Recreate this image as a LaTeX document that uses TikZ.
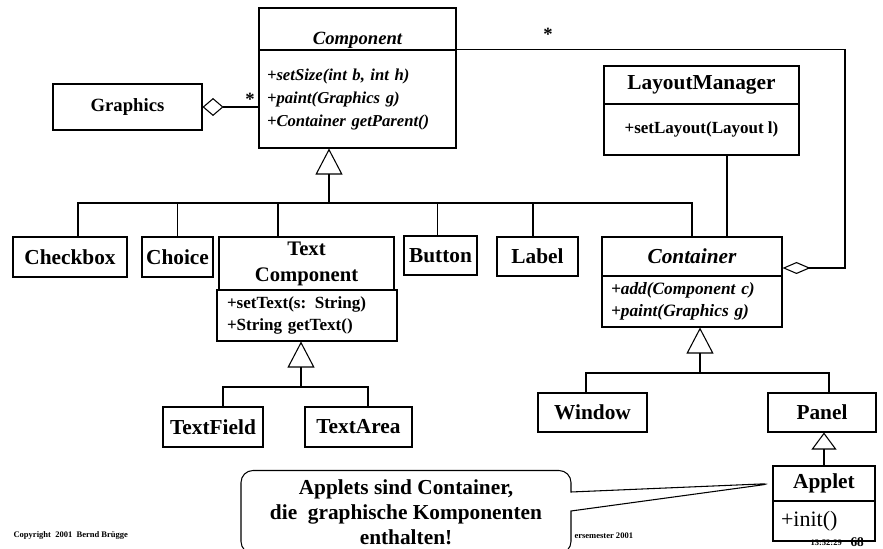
\documentclass[tikz,border=0pt]{standalone}
\usepackage{fontspec}
\setmainfont{Liberation Serif}
\usepackage{tikz}
\usetikzlibrary{arrows.meta, shapes.callouts}

\begin{document}
\begin{tikzpicture}[
        x = 0.75pt, y = -0.75pt, % pixel grid, y pointing down
        line width = 0.8pt, % line style
        gen/.style = {-{Triangle[open, length=19.5pt, width=20.25pt]}}, % generalization
        gensmall/.style = {-{Triangle[open, length=12.75pt, width=18.75pt]}}
    ]

    \tikzstyle{every node}=[inner sep = 0pt]
    \tikzstyle{cls}=[
        draw = black,
        fill = white,
        font = \fontsize{16}{19.5}\selectfont\bfseries
    ]
    \tikzstyle{ops}=[cls, align = left]
    \tikzstyle{mult}=[font = \fontsize{14}{16}\selectfont\bfseries]
    \tikzstyle{foot}=[anchor = base west, font = \fontsize{6.4}{7}\selectfont\bfseries]
    \tikzstyle{note}=[
        rectangle callout,
        draw = black,
        fill = white,
        rounded corners = 9pt,
        align = center,
        minimum width = 247.5pt,
        minimum height = 62.25pt,
        callout pointer width = 14.25pt,
        font = \fontsize{16}{18.75}\selectfont\bfseries
    ]

    \useasboundingbox (0,0) rectangle (883,549);

    % Component
    \node[cls, minimum width=147.75pt, minimum height=31.5pt, text height=27.75pt, text depth=3.75pt,
          font=\fontsize{14}{17}\selectfont\bfseries\itshape] (chead) at (357.5,29) {Component};
    \node[ops, minimum width=147.75pt, minimum height=73.5pt, text width=135.75pt,
          font=\fontsize{12.5}{17.25}\selectfont\bfseries\itshape] (cbody) at (357.5,99)
          {+setSize(int b, int h)\\+paint(Graphics g)\\+Container getParent()};
    \node[cls, minimum width=111.75pt, minimum height=34.5pt,
          font=\fontsize{14}{17}\selectfont\bfseries] (gfx) at (127.5,107) {Graphics};

    % LayoutManager
    \node[cls, minimum width=146.25pt, minimum height=28.5pt] (lhead) at (701.5,85) {LayoutManager};
    \node[cls, minimum width=146.25pt, minimum height=38.25pt,
          font=\fontsize{12.75}{15}\selectfont\bfseries] (lbody) at (701.5,129.5) {+setLayout(Layout l)};

    % subclasses of Component
    \node[cls, minimum width=85.5pt, minimum height=30pt] (chk) at (70,257) {Checkbox};
    \node[cls, minimum width=53.25pt, minimum height=30pt] (choice) at (177.5,257) {Choice};
    \node[cls, minimum width=131.25pt, minimum height=39.75pt, align=center,
          font=\fontsize{15.5}{19.5}\selectfont\bfseries] (tchead) at (306.5,263.5) {Text\\Component};
    \node[ops, minimum width=135pt, minimum height=38.25pt, text width=120pt,
          font=\fontsize{12.8}{16.5}\selectfont\bfseries] (tcbody) at (307,315.5)
          {+setText(s: String)\\+String getText()};
    \node[cls, minimum width=54.75pt, minimum height=29.25pt] (button) at (440.5,255.5) {Button};
    \node[cls, minimum width=60.75pt, minimum height=29.25pt] (label) at (537.5,256.5) {Label};
    \node[cls, minimum width=135pt, minimum height=29.25pt,
          font=\fontsize{16}{19.5}\selectfont\bfseries\itshape] (conthead) at (692,256.5) {Container};
    \node[ops, minimum width=135pt, minimum height=38.25pt, text width=121.5pt,
          font=\fontsize{13}{16.5}\selectfont\bfseries\itshape] (contbody) at (692,301.5)
          {+add(Component c)\\+paint(Graphics g)};

    % lower level
    \node[cls, minimum width=75pt, minimum height=30pt] (tfield) at (213,427) {TextField};
    \node[cls, minimum width=80.25pt, minimum height=30pt] (tarea) at (358.5,427) {TextArea};
    \node[cls, minimum width=81.75pt, minimum height=29.25pt] (window) at (592.5,412.5) {Window};
    \node[cls, minimum width=81pt, minimum height=29.25pt] (panel) at (822,412.5) {Panel};
    \node[cls, minimum width=76.5pt, minimum height=26.25pt] (apphead) at (824,483.5) {Applet};
    \node[ops, minimum width=76.5pt, minimum height=30pt, text width=64.5pt,
          font=\fontsize{16.5}{19}\selectfont] (appbody) at (824,521) {+init()};

    % inheritance trees
    \coordinate (j1) at (329,203);
    \coordinate (j2) at (301,387);
    \coordinate (j3) at (700,373);

    \draw[gen] (j1) -- (j1 |- cbody.south);
    \draw ([xshift=6pt]chk.north) |- (j1) -| (conthead.north);
    \draw (choice.north) |- (j1);
    \draw ([xshift=-21.4pt]tchead.north) |- (j1);
    \draw ([xshift=-2.6pt]button.north) |- (j1);
    \draw ([xshift=-3.4pt]label.north) |- (j1);

    \draw[gen] (j2) -- (j2 |- tcbody.south);
    \draw ([xshift=7.5pt]tfield.north) |- (j2) -| ([xshift=7.1pt]tarea.north);

    \draw[gen] (j3) -- (j3 |- contbody.south);
    \draw ([xshift=-4.9pt]window.north) |- (j3) -| ([xshift=5.25pt]panel.north);

    \draw[gensmall] (apphead.north) -- (apphead.north |- panel.south);

    % associations
    \draw[{Diamond[open, length=15.75pt, width=13.5pt]}-] (gfx.east) -- (gfx.east -| cbody.west);
    \node[mult] (m1) at (250,99) {*};

    \coordinate (corner) at (845,268);
    \draw[{Diamond[open, length=21pt, width=9pt]}-] (conthead.east |- corner) -- (corner) |- (cbody.north east);
    \node[mult] (m2) at (548,34) {*};

    \draw ([xshift=19.1pt]lbody.south) -- ([xshift=19.1pt]lbody.south |- conthead.north);

    % note
    \node[note, callout absolute pointer={(apphead.west)}] (hint) at (406,512)
        {Applets sind Container,\\die\ \ graphische Komponenten\\enthalten!};

    % footer
    \node[foot] (copyr) at (13,537) {Copyright\ \ 2001\ \ Bernd Brügge};
    \node[foot] (sem) at (574,538) {ersemester 2001};
    \node[foot] (clock) at (810,545) {13:52:29};
    \node[foot, font=\fontsize{10}{12}\selectfont\bfseries] (pageno) at (850,546) {68};

\end{tikzpicture}
\end{document}
